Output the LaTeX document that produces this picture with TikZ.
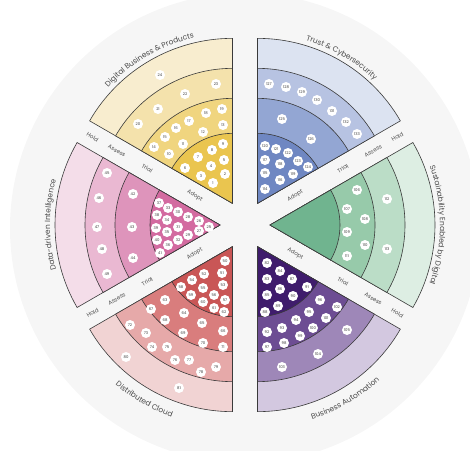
\documentclass[tikz,border=0pt]{standalone}
\usepackage{fontspec}
\setmainfont{Poppins}
\usetikzlibrary{decorations.text}
\definecolor{Y1}{HTML}{EAC54F}\definecolor{Y2}{HTML}{F0D57F}\definecolor{Y3}{HTML}{F4E2AC}\definecolor{Y4}{HTML}{F8EDCF}
\definecolor{B1}{HTML}{6F87C2}\definecolor{B2}{HTML}{93A6D3}\definecolor{B3}{HTML}{B7C3E2}\definecolor{B4}{HTML}{DCE3F1}
\definecolor{G1}{HTML}{70B48F}\definecolor{G2}{HTML}{97CAAA}\definecolor{G3}{HTML}{BBDDC7}\definecolor{G4}{HTML}{DDEEE3}
\definecolor{P1}{HTML}{3F1C6C}\definecolor{P2}{HTML}{6D4D93}\definecolor{P3}{HTML}{9E87B8}\definecolor{P4}{HTML}{D3C8E0}
\definecolor{R1}{HTML}{C95656}\definecolor{R2}{HTML}{D97D7D}\definecolor{R3}{HTML}{E6A9A9}\definecolor{R4}{HTML}{F1D3D3}
\definecolor{K1}{HTML}{D36BA0}\definecolor{K2}{HTML}{DE94BB}\definecolor{K3}{HTML}{EAB8D2}\definecolor{K4}{HTML}{F4DDE9}
\definecolor{edgecol}{HTML}{3A3A3A}
\definecolor{labcol}{HTML}{4A4A4A}
\definecolor{bgcol}{HTML}{F6F6F6}
\newcommand\titlefont{\fontsize{7.5}{8}\selectfont}
\newcommand\sect[3]{%
  \pgfmathsetmacro\sa{#1-30}\pgfmathsetmacro\ea{#1+30}%
  \filldraw[fill=#3, draw=edgecol, line width=0.6pt, line join=round]
    (#1:25) -- ++(\sa:#2) arc[start angle=\sa, end angle=\ea, radius=#2] -- cycle;}
\newcommand\toptitle[2]{%
  \pgfmathsetmacro\sa{#1+30}\pgfmathsetmacro\ea{#1-30}%
  \path[shift={(#1:25)}, decorate, decoration={text along path, text align=center,
    text color=labcol, text={|\titlefont|#2}}]
    (\sa:170) arc[start angle=\sa, end angle=\ea, radius=170];}
\newcommand\bottitle[2]{%
  \pgfmathsetmacro\sa{#1-30}\pgfmathsetmacro\ea{#1+30}%
  \path[shift={(#1:25)}, decorate, decoration={text along path, text align=center,
    text color=labcol, text={|\titlefont|#2}}]
    (\sa:181) arc[start angle=\sa, end angle=\ea, radius=181];}
\tikzset{
  blip/.style={circle, fill=white, inner sep=0pt, minimum size=10pt,
    font=\fontsize{3.8}{4}\selectfont, text=black!75},
  ringlab/.style={font=\fontsize{5.6}{6}\selectfont, text=labcol, inner sep=0pt}
}
\newcommand\bl[3]{\node[blip] (b#3) at (#1,#2) {#3};}
\begin{document}
\begin{tikzpicture}[x=1pt,y=1pt]
\useasboundingbox (-245,-225) rectangle (225,225);
\fill[bgcol] (0,-3) circle (235);
% sectors
\foreach \b/\c in {120/Y,60/B,0/G,-60/P,-120/R,180/K}{
  \sect{\b}{165}{\c4}
  \sect{\b}{135}{\c3}
  \sect{\b}{105}{\c2}
  \sect{\b}{70}{\c1}
}
% ring labels
\foreach \g/\rot in {150/-30, 30/30, -30/-30, -150/30}{
  \node[ringlab, rotate=\rot] (ad\g) at (\g:58) {Adopt};
  \node[ringlab, rotate=\rot] (tr\g) at (\g:113) {Trial};
  \node[ringlab, rotate=\rot] (as\g) at (\g:148) {Assess};
  \node[ringlab, rotate=\rot] (ho\g) at (\g:176) {Hold};
}
% titles
\toptitle{120}{Digital Business {\&} Products}
\toptitle{60}{Trust {\&} Cybersecurity}
\toptitle{0}{Sustainability Enabled by Digital}
\toptitle{180}{Data-driven Intelligence}
\bottitle{-60}{Business Automation}
\bottitle{-120}{Distributed Cloud}
% blips (image coordinates)
\begin{scope}[shift={(-245,225)}, yscale=-1]
% Digital Business & Products
\bl{160}{75}{24}\bl{216}{84}{23}\bl{185}{94}{22}\bl{158}{109}{21}\bl{138}{124}{20}
\bl{222}{109}{19}\bl{206}{113}{18}\bl{189}{121}{17}\bl{176}{128}{16}\bl{223}{125}{13}
\bl{203}{132}{12}\bl{165}{137}{15}\bl{154}{147}{14}\bl{183}{144}{11}\bl{169}{154}{10}
\bl{223}{144}{9}\bl{212}{150}{8}\bl{198}{157}{7}\bl{224}{160}{5}\bl{211}{166}{4}
\bl{185}{168}{6}\bl{201}{176}{3}\bl{225}{174}{2}\bl{213}{183}{1}
% Data-driven Intelligence
\bl{107}{173}{45}\bl{99}{198}{46}\bl{97}{227}{47}\bl{102}{249}{48}\bl{107}{274}{49}
\bl{133}{194}{42}\bl{132}{227}{43}\bl{133}{258}{44}
\bl{159}{203}{37}\bl{168}{208}{33}\bl{178}{212}{30}\bl{188}{217}{28}\bl{199}{221}{26}
\bl{209}{227}{25}\bl{157}{215}{38}\bl{167}{220}{34}\bl{178}{227}{31}\bl{199}{231}{27}
\bl{188}{235}{29}\bl{156}{228}{39}\bl{167}{232}{35}\bl{178}{240}{32}\bl{157}{240}{40}
\bl{168}{245}{36}\bl{160}{253}{41}
% Distributed Cloud
\bl{225}{261}{50}\bl{222}{273}{51}\bl{204}{274}{52}\bl{192}{280}{54}\bl{223}{285}{53}
\bl{203}{288}{55}\bl{181}{287}{58}\bl{214}{295}{56}\bl{191}{295}{59}\bl{225}{300}{57}
\bl{203}{302}{60}\bl{214}{308}{61}\bl{224}{312}{62}
\bl{165}{300}{63}\bl{151}{309}{67}\bl{184}{313}{64}\bl{165}{320}{68}\bl{202}{323}{65}
\bl{223}{331}{66}\bl{183}{333}{69}\bl{203}{343}{70}\bl{223}{347}{71}
\bl{130}{325}{72}\bl{146}{333}{73}\bl{152}{347}{74}\bl{167}{347}{75}\bl{175}{360}{76}
\bl{189}{360}{77}\bl{201}{372}{78}\bl{216}{367}{79}
\bl{126}{357}{80}\bl{179}{388}{81}
% Trust & Cybersecurity
\bl{269}{84}{127}\bl{286}{87}{128}\bl{302}{92}{129}\bl{317}{100}{130}\bl{332}{111}{131}
\bl{346}{122}{132}\bl{357}{134}{133}
\bl{282}{119}{125}\bl{311}{139}{126}
\bl{265}{146}{120}\bl{276}{149}{121}\bl{288}{153}{122}\bl{265}{160}{117}\bl{280}{164}{118}
\bl{298}{161}{123}\bl{308}{167}{124}\bl{265}{173}{115}\bl{293}{174}{119}\bl{280}{180}{116}
\bl{265}{189}{114}
% Sustainability Enabled by Digital
\bl{357}{190}{106}\bl{347}{209}{107}\bl{365}{219}{108}\bl{347}{232}{109}\bl{365}{245}{110}
\bl{347}{256}{111}\bl{387}{199}{112}\bl{387}{249}{113}
% Business Automation
\bl{267}{263}{82}\bl{280}{271}{84}\bl{267}{279}{83}\bl{292}{279}{87}\bl{280}{289}{86}
\bl{307}{287}{91}\bl{267}{295}{85}\bl{293}{296}{90}\bl{278}{306}{89}\bl{265}{312}{88}
\bl{320}{300}{96}\bl{337}{307}{102}\bl{309}{312}{95}\bl{326}{318}{101}\bl{296}{320}{94}
\bl{282}{328}{93}\bl{267}{332}{92}\bl{313}{328}{100}\bl{300}{336}{99}\bl{284}{343}{98}
\bl{267}{347}{97}
\bl{347}{330}{105}\bl{318}{354}{104}\bl{282}{367}{103}
\end{scope}
\end{tikzpicture}
\end{document}
